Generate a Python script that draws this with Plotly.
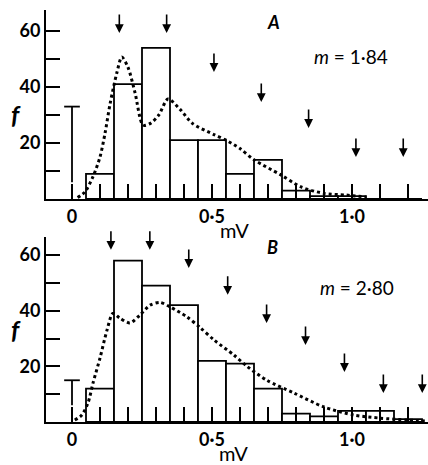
import plotly.graph_objects as go

W, H = 428, 465

# ---------------- data ----------------
bin_centers = [0.1, 0.2, 0.3, 0.4, 0.5, 0.6, 0.7, 0.8, 0.9, 1.0, 1.1, 1.2]
bin_width = 0.1
counts_A = [9, 41, 54, 21, 21, 9, 14, 3, 1, 1, 0, 0]
counts_B = [12, 58, 49, 42, 22, 21, 12, 3, 2, 4, 4, 1]

curve_x_A = [0.02, 0.046, 0.075, 0.1, 0.118, 0.136, 0.16, 0.178, 0.2, 0.225, 0.254,
             0.28, 0.31, 0.343, 0.386, 0.43, 0.507, 0.55, 0.6, 0.65, 0.746, 0.818,
             0.9, 0.98, 1.05]
curve_y_A = [0.5, 2.5, 8, 15, 23.5, 34, 45, 50.7, 47, 38, 26.4,
             27, 30, 35.7, 32, 27, 23, 21, 18, 14, 8.6, 4.3,
             2, 1.4, 0.7]

curve_x_B = [0.01, 0.035, 0.057, 0.075, 0.1, 0.125, 0.146, 0.17, 0.207, 0.243,
             0.279, 0.314, 0.35, 0.41, 0.457, 0.507, 0.579, 0.625, 0.696, 0.793,
             0.9, 1.007, 1.1, 1.196, 1.26]
curve_y_B = [0.7, 2.5, 6.8, 14, 23, 33, 39, 37.4, 35.6, 38.5,
             42, 43, 41.4, 37.8, 34, 29.5, 24, 20, 15, 10.4,
             5.4, 2.5, 1.4, 0.7, 0.4]

failures_A = 33
failures_B = 15

arrow_x_A = [0.169, 0.338, 0.507, 0.676, 0.845, 1.014, 1.183]
arrow_tip_A = [59.3, 59.3, 45.4, 34.6, 25.4, 15, 15]
arrow_x_B = [0.139, 0.278, 0.417, 0.556, 0.695, 0.834, 0.973, 1.112, 1.251]
arrow_tip_B = [61.9, 61.9, 55.4, 45.7, 35.6, 27.7, 18, 10.4, 10.4]

x_tickvals = [0, 0.1, 0.2, 0.3, 0.4, 0.5, 0.6, 0.7, 0.8, 0.9, 1.0, 1.1, 1.2]
x_ticktext = ["0", "", "", "", "", "0·5", "", "", "", "", "1·0", "", ""]
y_tickvals = [10, 20, 30, 40, 50, 60]
y_ticktext = ["", "20", "", "40", "", "60"]

label_A = "A"
label_B = "B"
m_A = "1·84"
m_B = "2·80"

FONT = "Lato"

# ---------------- figure ----------------
fig = go.Figure()

def add_panel(counts, cx, cy, fail, xa, ya):
    fig.add_trace(go.Bar(
        x=bin_centers, y=counts, width=bin_width, xaxis=xa, yaxis=ya,
        marker=dict(color="white", line=dict(color="black", width=1.8)),
        showlegend=False, hoverinfo="skip"))
    fig.add_trace(go.Scatter(
        x=cx, y=cy, xaxis=xa, yaxis=ya, mode="lines",
        line=dict(color="black", width=3, dash="dot", shape="spline", smoothing=0.8),
        showlegend=False, hoverinfo="skip"))
    cap = 0.028
    fig.add_trace(go.Scatter(
        x=[-cap, cap, None, 0, 0], y=[fail, fail, None, fail, 6],
        xaxis=xa, yaxis=ya, mode="lines",
        line=dict(color="black", width=1.8),
        showlegend=False, hoverinfo="skip"))

add_panel(counts_A, curve_x_A, curve_y_A, failures_A, "x", "y")
add_panel(counts_B, curve_x_B, curve_y_B, failures_B, "x2", "y2")

tickfont = dict(family=FONT, size=18, color="black", weight="bold")
xr = [(46 - 72) / 280, (428 - 72) / 280]
xcommon = dict(range=xr, domain=[46 / W, 1], showline=True, linewidth=2, linecolor="black",
               ticks="inside", ticklen=15, tickwidth=1.8, tickcolor="black",
               tickvals=x_tickvals, ticktext=x_ticktext, showgrid=False, zeroline=False,
               tickfont=tickfont, fixedrange=True)
ycommon = dict(showline=True, linewidth=2, linecolor="black",
               ticks="inside", ticklen=14, tickwidth=1.8, tickcolor="black",
               tickvals=y_tickvals, ticktext=y_ticktext, showgrid=False, zeroline=False,
               tickfont=tickfont, fixedrange=True)

fig.update_layout(
    width=W, height=H, margin=dict(l=0, r=0, t=0, b=0),
    paper_bgcolor="white", plot_bgcolor="white", barmode="overlay",
    xaxis=dict(anchor="y", **xcommon),
    xaxis2=dict(anchor="y2", **xcommon),
    yaxis=dict(anchor="x", domain=[(H - 199) / H, (H - 10) / H], range=[0, 67.5], **ycommon),
    yaxis2=dict(anchor="x2", domain=[(H - 422) / H, (H - 237) / H], range=[0, 66.5], **ycommon),
)

anns = []
for xs, ts, xr_, yr_ in [(arrow_x_A, arrow_tip_A, "x", "y"), (arrow_x_B, arrow_tip_B, "x2", "y2")]:
    for ax_, t in zip(xs, ts):
        anns.append(dict(x=ax_, y=t, xref=xr_, yref=yr_, text="", showarrow=True,
                         ax=0, ay=-20, arrowhead=2, arrowsize=1.1, arrowwidth=1.6,
                         arrowcolor="black", standoff=0))

def txt(s, px, py, size=18, yanchor="middle", weight="normal", **kw):
    anns.append(dict(text=s, x=px / W, y=1 - py / H, xref="paper", yref="paper",
                     showarrow=False, xanchor="center", yanchor=yanchor, borderpad=0,
                     font=dict(family=FONT, size=size, color="black", weight=weight), **kw))

txt("<i>f</i>", 16, 114, size=25, weight="bold")
txt("<i>f</i>", 16, 329, size=25, weight="bold")
txt("mV", 234, 230, size=20)
txt("mV", 233, 466, size=20, yanchor="bottom")
txt("<i>" + label_A + "</i>", 273, 22, weight="bold")
txt("<i>" + label_B + "</i>", 272, 247, weight="bold")
txt("<i>m</i> = " + m_A, 351, 56, size=19)
txt("<i>m</i> = " + m_B, 357, 287, size=19)

fig.update_layout(annotations=anns)
fig.write_html("out.html", post_script="document.body.style.margin='0';",
               config={"displayModeBar": False})
